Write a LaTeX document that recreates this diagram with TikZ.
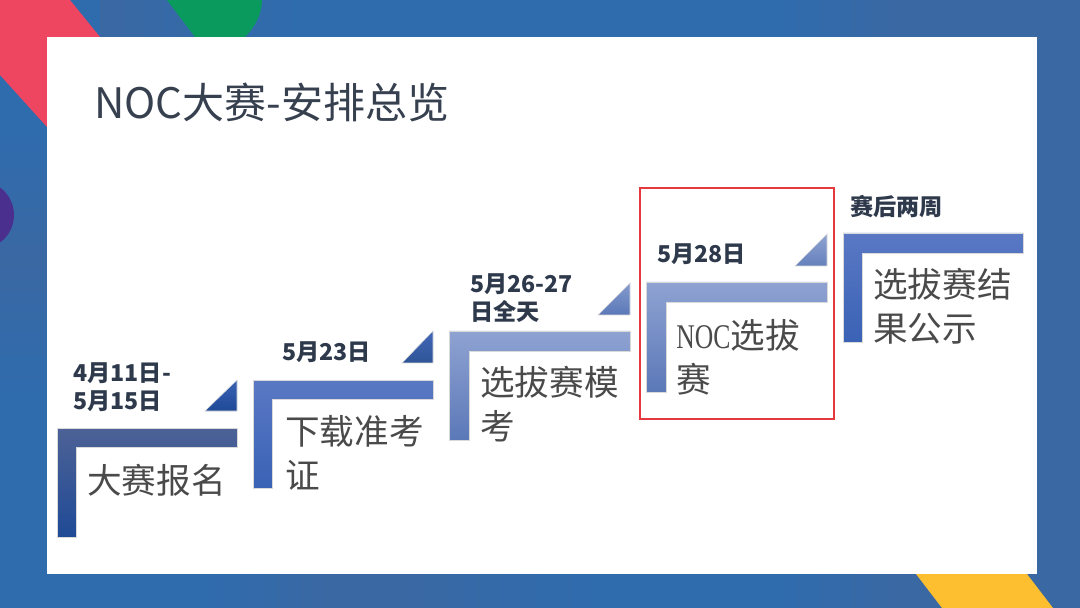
\documentclass[tikz,border=0pt]{standalone}
\usepackage{fontspec}
\setmainfont{Noto Sans CJK SC}
\newfontfamily\latinserif[FakeStretch=0.74]{Liberation Serif}
\definecolor{bgblue}{HTML}{2F6CAE}
\definecolor{bgdull}{HTML}{3A68A3}
\definecolor{titleink}{HTML}{36404F}
\definecolor{dateink}{HTML}{2E3A4C}
\definecolor{stepink}{HTML}{4A4A4A}
\definecolor{boxred}{HTML}{E5393F}
\definecolor{redtop}{HTML}{EE4560}
\definecolor{greentop}{HTML}{0A9A5E}
\definecolor{purpleleft}{HTML}{4A2F8F}
\definecolor{yellowtab}{HTML}{FDBF2F}
\definecolor{firsta}{HTML}{4D6296}
\definecolor{firstb}{HTML}{2F5597}
\definecolor{firstc}{HTML}{1F4A96}
\definecolor{seconda}{HTML}{5A78C4}
\definecolor{secondb}{HTML}{3A62B5}
\definecolor{thirda}{HTML}{8FA3D2}
\definecolor{thirdb}{HTML}{5B78B8}
\tikzset{
  steplabel/.style={anchor=north west,inner sep=0pt,align=left,text=stepink,font=\fontsize{19.7}{25}\selectfont},
  datelabel/.style={anchor=north west,inner sep=0pt,align=left,text=dateink,font=\fontsize{13.2}{16}\selectfont\bfseries},
  corner/.style={draw=black!15,line width=0.3pt}
}
\begin{document}
\begin{tikzpicture}[x=0.02cm,y=-0.02cm]
    \useasboundingbox (0,0) rectangle (1080,608);
    \clip (0,0) rectangle (1080,608);
    % backdrop
    \fill[bgblue] (0,0) rectangle (1080,608);
    \shade[left color=bgdull,right color=bgblue] (100,0) rectangle (300,37);
    \shade[left color=bgblue,right color=bgdull] (780,0) rectangle (900,37);
    \fill[bgdull] (900,0) rectangle (1080,608);
    \shade[left color=bgblue,right color=bgdull] (200,574) rectangle (330,608);
    \fill[bgdull] (330,574) rectangle (400,608);
    \shade[left color=bgdull,right color=bgblue] (400,574) rectangle (600,608);
    \shade[left color=bgblue,right color=bgdull] (780,574) rectangle (900,608);
    \shade[top color=bgblue,bottom color=bgdull] (0,127) rectangle (47,260);
    \shade[top color=bgdull,bottom color=bgblue] (0,260) rectangle (47,400);
    \fill[redtop] (0,0) -- (70,0) -- (100,37) -- (47,37) -- (47,127) -- (0,75) -- cycle;
    \fill[greentop] (167,0) -- (195,37) -- (245,37) .. controls (256,26) and (262,13) .. (262,0) -- cycle;
    \fill[purpleleft] (-20,215) circle (34);
    \fill[yellowtab] (916,574) -- (1027,574) -- (1053,608) -- (942,608) -- cycle;
    \fill[white] (47,37) rectangle (1037,574);
    % title
    \node[anchor=north west,inner sep=0pt,text=titleink,font=\fontsize{23.9}{28}\selectfont] (title) at (94,83) {NOC大赛-安排总览};
    % red frame
    \node[draw=boxred,line width=1.1pt,inner sep=0pt,minimum width=3.88cm,minimum height=4.62cm,anchor=north west] (frame) at (639,187) {};
    % first step
    \shadedraw[corner,top color=firsta,middle color=firstb,bottom color=firstc] (57,428) -- (237,428) -- (237,447) -- (76,447) -- (76,537) -- (57,537) -- cycle;
    \shadedraw[corner,top color=secondb,bottom color=firstc] (205,411) -- (237,411) -- (237,380) -- cycle;
    \node[steplabel] (signup) at (87,464) {大赛报名};
    \node[datelabel] (signupdate) at (73,362) {4月11日-\\5月15日};
    % second step
    \shadedraw[corner,top color=seconda,bottom color=secondb] (253,380) -- (433,380) -- (433,399) -- (272,399) -- (272,488) -- (253,488) -- cycle;
    \shadedraw[corner,top color=secondb!80!seconda,bottom color=firstb] (402,363) -- (433,363) -- (433,331) -- cycle;
    \node[steplabel] (ticket) at (285,415) {下载准考\\证};
    \node[datelabel] (ticketdate) at (282,341) {5月23日};
    % third step
    \shadedraw[corner,top color=thirda,bottom color=thirdb] (449,331) -- (630,331) -- (630,351) -- (469,351) -- (469,440) -- (449,440) -- cycle;
    \shadedraw[corner,top color=thirda!80!thirdb,bottom color=thirdb] (598,315) -- (630,315) -- (630,283) -- cycle;
    \node[steplabel] (mock) at (480,366) {选拔赛模\\考};
    \node[datelabel] (mockdate) at (470,273) {5月26-27\\日全天};
    % fourth step
    \shadedraw[corner,top color=thirda,bottom color=thirdb] (646,282) -- (827,282) -- (827,302) -- (666,302) -- (666,392) -- (646,392) -- cycle;
    \shadedraw[corner,top color=thirda,bottom color=thirdb!80!thirda] (795,266) -- (827,266) -- (827,234) -- cycle;
    \node[steplabel] (contest) at (676,319) {{\latinserif NOC}选拔\\赛};
    \node[datelabel] (contestdate) at (657,243) {5月28日};
    % fifth step
    \shadedraw[corner,top color=seconda,bottom color=secondb] (843,233) -- (1023,233) -- (1023,253) -- (862,253) -- (862,342) -- (843,342) -- cycle;
    \node[steplabel] (result) at (873,268) {选拔赛结\\果公示};
    \node[datelabel] (resultdate) at (850,195) {赛后两周};
  \end{tikzpicture}
\end{document}
